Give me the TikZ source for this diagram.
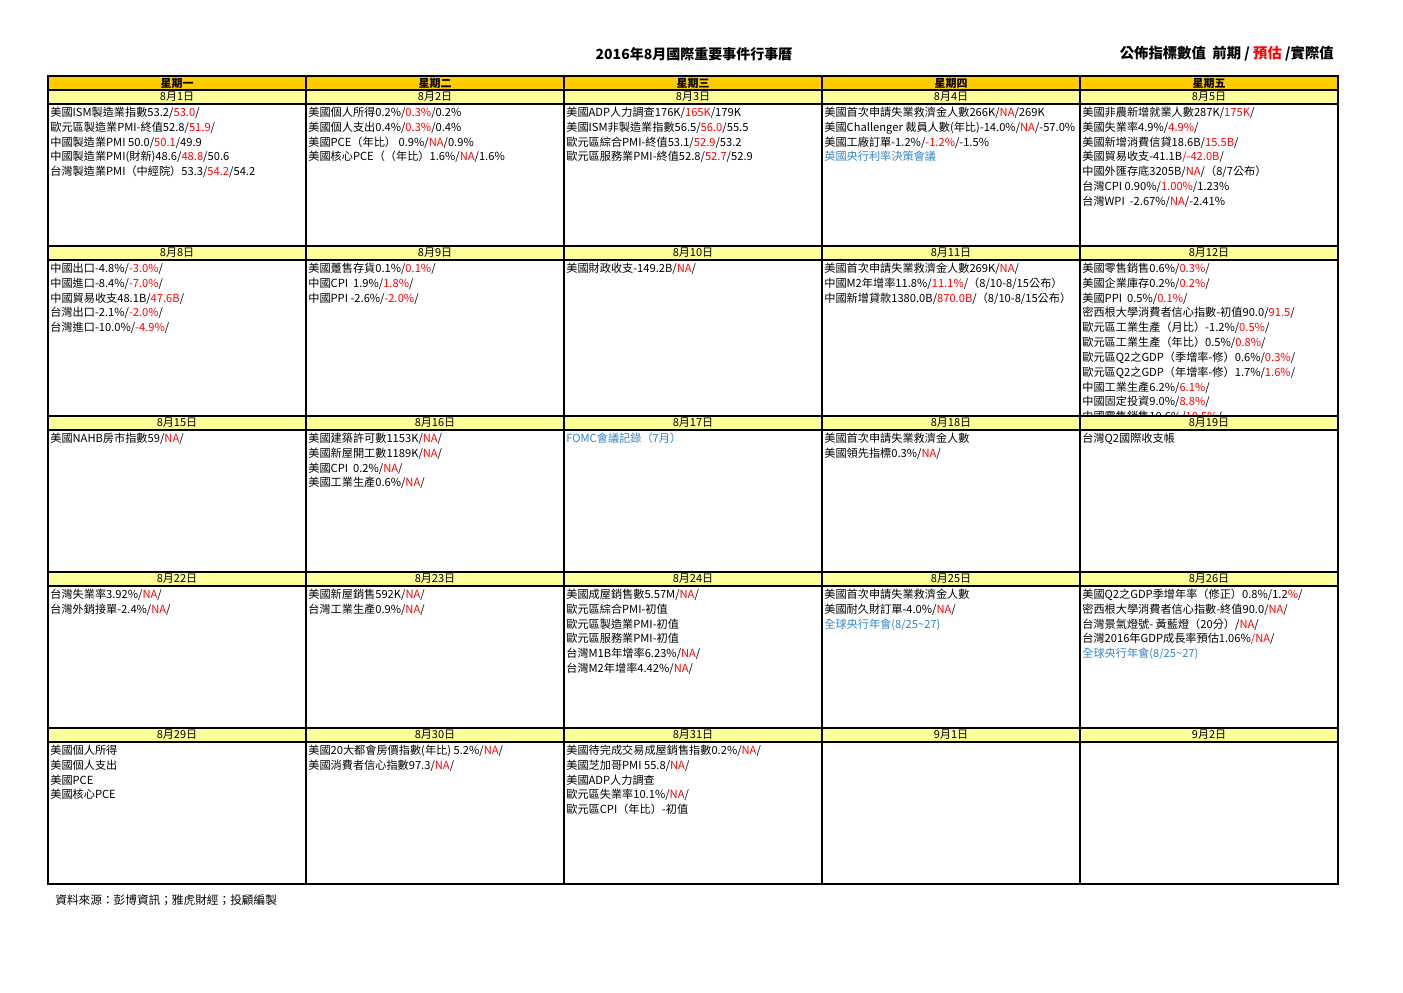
\documentclass[tikz,border=0pt]{standalone}
\usepackage{fontspec}
\setmainfont{Noto Sans CJK TC}
\definecolor{hdrgold}{RGB}{255,204,0}
\definecolor{dateyel}{RGB}{255,255,153}
\definecolor{estred}{RGB}{255,0,0}
\definecolor{evtblue}{RGB}{49,132,199}
\newcommand{\est}[1]{\textcolor{estred}{#1}}
\newcommand{\evt}[1]{\textcolor{evtblue}{#1}}
\newcommand{\fl}{\rule{0pt}{7pt}}
\tikzset{
  x=0.6pt, y=-0.6pt,
  grid/.style={line width=0.9pt},
  dayhead/.style={draw, line width=0.9pt, fill=hdrgold, inner sep=0pt,
    minimum width=154.8pt, minimum height=8.4pt,
    font=\bfseries\fontsize{6.6}{8}\selectfont},
  datecell/.style={draw, line width=0.9pt, fill=dateyel, inner sep=0pt,
    minimum width=154.8pt, minimum height=8.4pt,
    font=\fontsize{6.6}{8}\selectfont},
  celltext/.style={anchor=north west, inner sep=0pt, align=left,
    font=\fontsize{6.7}{8.9}\selectfont}
}
\begin{document}
\begin{tikzpicture}
\useasboundingbox (0,0) rectangle (1403,992);

\node [inner sep=0pt, font=\bfseries\fontsize{8.4}{10}\selectfont] (title) at (694,54) {2016年8月國際重要事件行事曆};
\node [anchor=east, inner sep=0pt, font=\bfseries\fontsize{8.6}{10}\selectfont] (legend) at (1334,54) {公佈指標數值\ \ 前期 / \est{預估} /實際值};

% content text
\node [celltext] (c11) at (50,104.4) {\fl 美國ISM製造業指數53.2/\est{53.0}/\\歐元區製造業PMI-終值52.8/\est{51.9}/\\中國製造業PMI 50.0/\est{50.1}/49.9\\中國製造業PMI(財新)48.6/\est{48.8}/50.6\\台灣製造業PMI（中經院）53.3/\est{54.2}/54.2};
\node [celltext] (c12) at (308,104.4) {\fl 美國個人所得0.2\%/\est{0.3\%}/0.2\%\\美國個人支出0.4\%/\est{0.3\%}/0.4\%\\美國PCE（年比） 0.9\%/\est{NA}/0.9\%\\美國核心PCE（（年比）1.6\%/\est{NA}/1.6\%};
\node [celltext] (c13) at (566,104.4) {\fl 美國ADP人力調查176K/\est{165K}/179K\\美國ISM非製造業指數56.5/\est{56.0}/55.5\\歐元區綜合PMI-終值53.1/\est{52.9}/53.2\\歐元區服務業PMI-終值52.8/\est{52.7}/52.9};
\node [celltext] (c14) at (824,104.4) {\fl 美國首次申請失業救濟金人數266K/\est{NA}/269K\\美國Challenger 裁員人數(年比)-14.0\%/\est{NA}/-57.0\%\\美國工廠訂單-1.2\%/\est{-1.2\%}/-1.5\%\\\evt{英國央行利率決策會議}};
\node [celltext] (c15) at (1082,104.4) {\fl 美國非農新增就業人數287K/\est{175K}/\\美國失業率4.9\%/\est{4.9\%}/\\美國新增消費信貸18.6B/\est{15.5B}/\\美國貿易收支-41.1B\est{/-42.0B}/\\中國外匯存底3205B/\est{NA}/（8/7公布）\\台灣CPI 0.90\%/\est{1.00\%}/1.23\%\\台灣WPI\ \ -2.67\%/\est{NA}/-2.41\%};

\node [celltext] (c21) at (50,260.4) {\fl 中國出口-4.8\%/\est{-3.0\%}/\\中國進口-8.4\%/\est{-7.0\%}/\\中國貿易收支48.1B/\est{47.6B}/\\台灣出口-2.1\%/\est{-2.0\%}/\\台灣進口-10.0\%/\est{-4.9\%}/};
\node [celltext] (c22) at (308,260.4) {\fl 美國躉售存貨0.1\%/\est{0.1\%}/\\中國CPI\ \ 1.9\%/\est{1.8\%}/\\中國PPI -2.6\%/\est{-2.0\%}/};
\node [celltext] (c23) at (566,260.4) {\fl 美國財政收支-149.2B/\est{NA}/};
\node [celltext] (c24) at (824,260.4) {\fl 美國首次申請失業救濟金人數269K/\est{NA}/\\中國M2年增率11.8\%/\est{11.1\%}/（8/10-8/15公布）\\中國新增貸款1380.0B/\est{870.0B}/（8/10-8/15公布）};
\begin{scope}
\clip (1080,260) rectangle (1338,416);
\node [celltext] (c25) at (1082,260.4) {\fl 美國零售銷售0.6\%/\est{0.3\%}/\\美國企業庫存0.2\%/\est{0.2\%}/\\美國PPI\ \ 0.5\%/\est{0.1\%}/\\密西根大學消費者信心指數-初值90.0/\est{91.5}/\\歐元區工業生產（月比）-1.2\%/\est{0.5\%}/\\歐元區工業生產（年比）0.5\%/\est{0.8\%}/\\歐元區Q2之GDP（季增率-修）0.6\%/\est{0.3\%}/\\歐元區Q2之GDP（年增率-修）1.7\%/\est{1.6\%}/\\中國工業生產6.2\%/\est{6.1\%}/\\中國固定投資9.0\%/\est{8.8\%}/\\中國零售銷售10.6\%/\est{10.5\%}/};
\end{scope}

\node [celltext] (c31) at (50,430.4) {\fl 美國NAHB房市指數59/\est{NA}/};
\node [celltext] (c32) at (308,430.4) {\fl 美國建築許可數1153K/\est{NA}/\\美國新屋開工數1189K/\est{NA}/\\美國CPI\ \ 0.2\%/\est{NA}/\\美國工業生產0.6\%/\est{NA}/};
\node [celltext] (c33) at (566,430.4) {\fl\evt{FOMC會議記錄（7月）}};
\node [celltext] (c34) at (824,430.4) {\fl 美國首次申請失業救濟金人數\\美國領先指標0.3\%/\est{NA}/};
\node [celltext] (c35) at (1082,430.4) {\fl 台灣Q2國際收支帳};

\node [celltext] (c41) at (50,586.4) {\fl 台灣失業率3.92\%/\est{NA}/\\台灣外銷接單-2.4\%/\est{NA}/};
\node [celltext] (c42) at (308,586.4) {\fl 美國新屋銷售592K/\est{NA}/\\台灣工業生產0.9\%/\est{NA}/};
\node [celltext] (c43) at (566,586.4) {\fl 美國成屋銷售數5.57M/\est{NA}/\\歐元區綜合PMI-初值\\歐元區製造業PMI-初值\\歐元區服務業PMI-初值\\台灣M1B年增率6.23\%/\est{NA}/\\台灣M2年增率4.42\%/\est{NA}/};
\node [celltext] (c44) at (824,586.4) {\fl 美國首次申請失業救濟金人數\\美國耐久財訂單-4.0\%/\est{NA}/\\\evt{全球央行年會(8/25\textasciitilde27)}};
\node [celltext] (c45) at (1082,586.4) {\fl 美國Q2之GDP季增年率（修正）0.8\%/1.2\est{\%}/\\密西根大學消費者信心指數-終值90.0/\est{NA}/\\台灣景氣燈號- 黃藍燈（20分）/\est{NA}/\\台灣2016年GDP成長率預估1.06\%\est{/NA}/\\\evt{全球央行年會(8/25\textasciitilde27)}};

\node [celltext] (c51) at (50,742.4) {\fl 美國個人所得\\美國個人支出\\美國PCE\\美國核心PCE};
\node [celltext] (c52) at (308,742.4) {\fl 美國20大都會房價指數(年比) 5.2\%/\est{NA}/\\美國消費者信心指數97.3/\est{NA}/};
\node [celltext] (c53) at (566,742.4) {\fl 美國待完成交易成屋銷售指數0.2\%/\est{NA}/\\美國芝加哥PMI 55.8/\est{NA}/\\美國ADP人力調查\\歐元區失業率10.1\%/\est{NA}/\\歐元區CPI（年比）-初值};

% grid
\draw [grid] (48,76) rectangle (1338,884);
\draw [grid] (306,76) -- (306,884) (564,76) -- (564,884) (822,76) -- (822,884) (1080,76) -- (1080,884);
\draw [grid] (48,246) -- (1338,246) (48,416) -- (1338,416) (48,572) -- (1338,572) (48,728) -- (1338,728);

% weekday heads
\node [dayhead] (h1) at (177,83) {星期一};
\node [dayhead] (h2) at (435,83) {星期二};
\node [dayhead] (h3) at (693,83) {星期三};
\node [dayhead] (h4) at (951,83) {星期四};
\node [dayhead] (h5) at (1209,83) {星期五};

% dates
\node [datecell] (d11) at (177,97) {8月1日};
\node [datecell] (d12) at (435,97) {8月2日};
\node [datecell] (d13) at (693,97) {8月3日};
\node [datecell] (d14) at (951,97) {8月4日};
\node [datecell] (d15) at (1209,97) {8月5日};
\node [datecell] (d21) at (177,253) {8月8日};
\node [datecell] (d22) at (435,253) {8月9日};
\node [datecell] (d23) at (693,253) {8月10日};
\node [datecell] (d24) at (951,253) {8月11日};
\node [datecell] (d25) at (1209,253) {8月12日};
\node [datecell] (d31) at (177,423) {8月15日};
\node [datecell] (d32) at (435,423) {8月16日};
\node [datecell] (d33) at (693,423) {8月17日};
\node [datecell] (d34) at (951,423) {8月18日};
\node [datecell] (d35) at (1209,423) {8月19日};
\node [datecell] (d41) at (177,579) {8月22日};
\node [datecell] (d42) at (435,579) {8月23日};
\node [datecell] (d43) at (693,579) {8月24日};
\node [datecell] (d44) at (951,579) {8月25日};
\node [datecell] (d45) at (1209,579) {8月26日};
\node [datecell] (d51) at (177,735) {8月29日};
\node [datecell] (d52) at (435,735) {8月30日};
\node [datecell] (d53) at (693,735) {8月31日};
\node [datecell] (d54) at (951,735) {9月1日};
\node [datecell] (d55) at (1209,735) {9月2日};

\node [anchor=west, inner sep=0pt, font=\fontsize{7}{8}\selectfont] (source) at (55,900) {資料來源：彭博資訊；雅虎財經；投顧編製};
\end{tikzpicture}
\end{document}
